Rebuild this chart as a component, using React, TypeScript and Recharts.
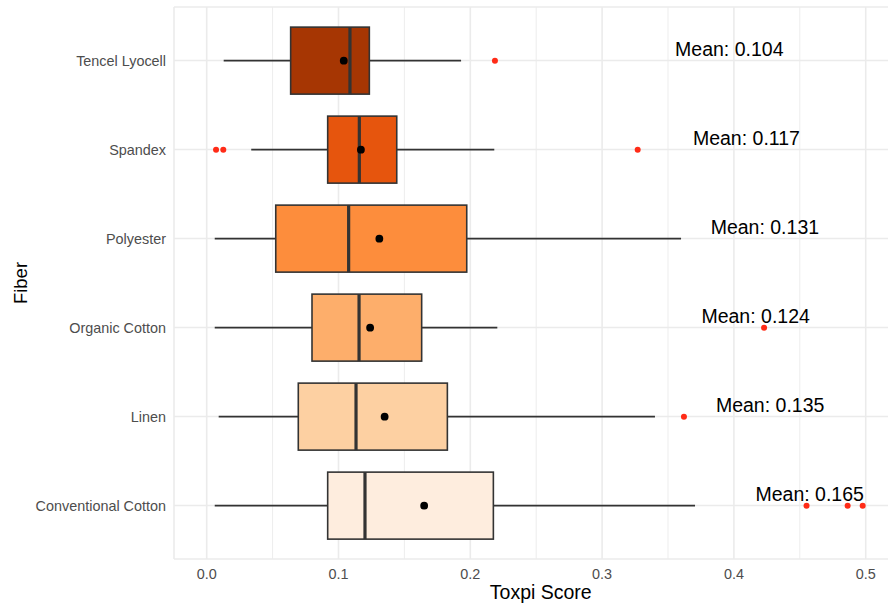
import React from 'react';
import { ComposedChart, Bar, XAxis, YAxis, CartesianGrid } from 'recharts';

// Toxpi score distribution per fiber (five-number summaries, means, outliers)
const fibers = ['Tencel Lyocell', 'Spandex', 'Polyester', 'Organic Cotton', 'Linen', 'Conventional Cotton'];
const whiskerLow = [0.0129, 0.0338, 0.0061, 0.0061, 0.0091, 0.0061];
const q1 = [0.0637, 0.0918, 0.0524, 0.0799, 0.0695, 0.0918];
const medians = [0.1087, 0.1158, 0.1077, 0.1156, 0.1133, 0.1201];
const q3 = [0.1234, 0.1442, 0.1973, 0.1631, 0.1826, 0.2175];
const whiskerHigh = [0.193, 0.2182, 0.3599, 0.2205, 0.3401, 0.3705];
const means = [0.104, 0.117, 0.131, 0.124, 0.135, 0.165];
const outliers = [
  [0.2187],
  [0.0071, 0.0126, 0.327],
  [],
  [0.4229],
  [0.3621],
  [0.4551, 0.4863, 0.4977],
];

const xTicks = [0, 0.1, 0.2, 0.3, 0.4, 0.5];
const minorTicks = [0.05, 0.15, 0.25, 0.35, 0.45];

// Oranges palette, dark to light
const fills = ['#A63603', '#E6550D', '#FD8D3C', '#FDAE6B', '#FDD0A2', '#FEEDDE'];
const EDGE = '#333333';
const OUTLIER = '#FF2B17';
const LABEL_SHIFT = 0.2925; // mean labels sit to the right of the mean

const rows = fibers.map((fiber, i) => ({
  fiber,
  range: [whiskerLow[i], whiskerHigh[i]],
  q1: q1[i],
  median: medians[i],
  q3: q3[i],
  mean: means[i],
  outliers: outliers[i],
}));

const BoxShape = (props: any) => {
  const { x, y, width, height, payload, index } = props;
  const [lo, hi] = payload.range;
  // map a value onto the bar's pixel span (bar covers the whisker range)
  const px = (v: number) => x + ((v - lo) / (hi - lo)) * width;
  const cy = y + height / 2;
  const boxL = px(payload.q1);
  const boxR = px(payload.q3);
  const med = px(payload.median);
  return (
    <g>
      <line x1={px(lo)} x2={boxL} y1={cy} y2={cy} stroke={EDGE} strokeWidth={1.6} />
      <line x1={boxR} x2={px(hi)} y1={cy} y2={cy} stroke={EDGE} strokeWidth={1.6} />
      <rect x={boxL} y={y} width={boxR - boxL} height={height} fill={fills[index]} stroke={EDGE} strokeWidth={1.6} />
      <line x1={med} x2={med} y1={y} y2={y + height} stroke={EDGE} strokeWidth={3.2} />
      {payload.outliers.map((v: number, k: number) => (
        <circle key={k} cx={px(v)} cy={cy} r={3} fill={OUTLIER} />
      ))}
      <circle cx={px(payload.mean)} cy={cy} r={3.9} fill="#000" />
      <text
        x={px(payload.mean + LABEL_SHIFT)}
        y={cy - 5}
        textAnchor="middle"
        fontSize={19.5}
        fill="#000"
      >
        {`Mean: ${payload.mean.toFixed(3)}`}
      </text>
    </g>
  );
};

const FiberTitle = (props: any) => {
  const { viewBox } = props;
  const tx = viewBox.x + 26.5;
  const ty = viewBox.y + viewBox.height / 2;
  return (
    <text x={tx} y={ty} transform={`rotate(-90, ${tx}, ${ty})`} textAnchor="middle" fontSize={18.5} fill="#000">
      Fiber
    </text>
  );
};

export default function App() {
  return (
    <div
      style={{
        position: 'absolute',
        left: 0,
        top: 0,
        width: 888,
        height: 604,
        overflow: 'hidden',
        background: '#fff',
        fontFamily: '"Liberation Sans", Arial, Helvetica, sans-serif',
      }}
    >
      <ComposedChart
        width={898}
        height={604}
        data={rows}
        layout="vertical"
        margin={{ top: 7, right: 2.5, bottom: 0, left: 0 }}
        barCategoryGap="12.5%"
      >
        <CartesianGrid horizontal={false} verticalValues={minorTicks} stroke="#EBEBEB" strokeWidth={0.9} />
        <CartesianGrid stroke="#EBEBEB" strokeWidth={1.6} />
        <XAxis
          type="number"
          domain={[-0.0248, 0.5226]}
          ticks={xTicks}
          allowDataOverflow
          tickFormatter={(v: number) => v.toFixed(1)}
          axisLine={false}
          tickLine={false}
          tickMargin={4}
          height={45}
          tick={{ fill: '#4D4D4D', fontSize: 14.4 }}
          label={{ value: 'Toxpi Score', position: 'insideBottom', offset: 5.5, dx: 6, fill: '#000', fontSize: 19.5 }}
        />
        <YAxis
          type="category"
          dataKey="fiber"
          width={174}
          axisLine={false}
          tickLine={false}
          padding={{ top: 9, bottom: 9 }}
          tick={{ fill: '#4D4D4D', fontSize: 14.4 }}
          label={<FiberTitle />}
        />
        <Bar dataKey="range" shape={<BoxShape />} isAnimationActive={false} />
      </ComposedChart>
    </div>
  );
}
